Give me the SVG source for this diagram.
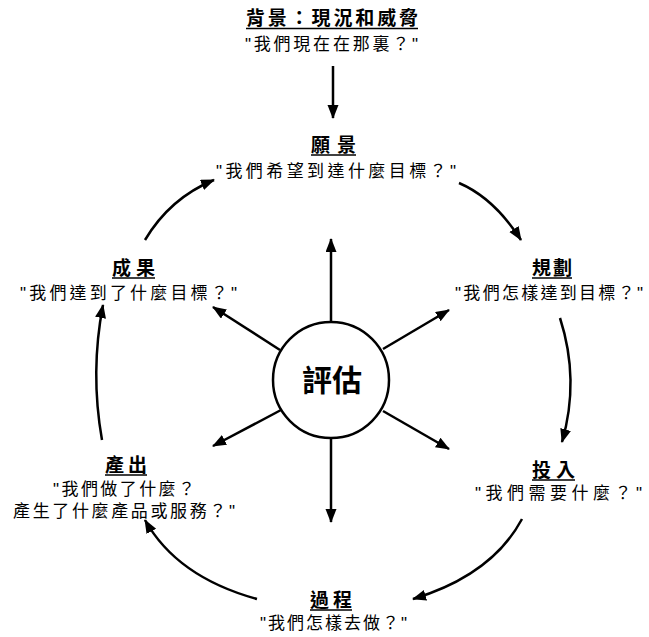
<svg xmlns="http://www.w3.org/2000/svg" width="649" height="637" viewBox="0 0 649 637">
<style>
.t{font-family:"Liberation Sans","Noto Sans CJK TC","Noto Sans CJK SC",sans-serif;font-size:19px;font-weight:bold;fill:#000}
.s{font-family:"Liberation Sans","Noto Sans CJK TC","Noto Sans CJK SC",sans-serif;font-size:17px;fill:#000}
.u{stroke:#000;stroke-width:1.5}
.c{fill:none;stroke:#000;stroke-width:2.5}
</style>
<defs>
<marker id="ah" markerUnits="userSpaceOnUse" markerWidth="14" markerHeight="12" refX="13" refY="5.5" orient="auto" viewBox="0 0 14 12">
<path d="M0,0 L14,5.5 L0,11 z" fill="#000"/>
</marker>
</defs>
<rect width="649" height="637" fill="#fff"/>
<g id="connectors">
<path class="c" d="M333,66 L333,118" marker-end="url(#ah)"/>
<path class="c" d="M459,183 Q494,198 521,240" marker-end="url(#ah)"/>
<path class="c" d="M560,318 Q580,380 562,442" marker-end="url(#ah)"/>
<path class="c" d="M522,519 Q492,575 413,599" marker-end="url(#ah)"/>
<path class="c" d="M257,599 Q177,577 145,520" marker-end="url(#ah)"/>
<path class="c" d="M102,440 Q90,372 103,305" marker-end="url(#ah)"/>
<path class="c" d="M145,240 Q170,198 214,180" marker-end="url(#ah)"/>
<path class="c" d="M331,322 L331,239" marker-end="url(#ah)"/>
<path class="c" d="M331,438 L331,522" marker-end="url(#ah)"/>
<path class="c" d="M280,350 L213,307" marker-end="url(#ah)"/>
<path class="c" d="M383,349 L449,310" marker-end="url(#ah)"/>
<path class="c" d="M281,410 L213,446" marker-end="url(#ah)"/>
<path class="c" d="M383,411 L449,449" marker-end="url(#ah)"/>
</g>
<g id="center">
<circle cx="331" cy="380" r="58" fill="#fff" stroke="#000" stroke-width="2.5"/>
<text x="332" y="391" text-anchor="middle" style="font-family:'Noto Sans CJK TC','Noto Sans CJK SC',sans-serif;font-size:30px;font-weight:bold">評估</text>
</g>
<g id="background">
<text class="t" x="246" y="25" textLength="172" lengthAdjust="spacing">背景：現況和威脅</text>
<line class="u" x1="246" y1="28.5" x2="418" y2="28.5"/>
<text class="s" x="245" y="49.5" textLength="173" lengthAdjust="spacing">"我們現在在那裏？"</text>
</g>
<g id="vision">
<text class="t" x="311" y="152" textLength="45" lengthAdjust="spacing">願景</text>
<line class="u" x1="311" y1="155" x2="356" y2="155"/>
<text class="s" x="216" y="176.5" textLength="240" lengthAdjust="spacing">"我們希望到達什麼目標？"</text>
</g>
<g id="planning">
<text class="t" x="532" y="275" textLength="40" lengthAdjust="spacing">規劃</text>
<line class="u" x1="532" y1="278" x2="572" y2="278"/>
<text class="s" x="455" y="298.5" textLength="188" lengthAdjust="spacing">"我們怎樣達到目標？"</text>
</g>
<g id="input">
<text class="t" x="532" y="477" textLength="43" lengthAdjust="spacing">投入</text>
<line class="u" x1="532" y1="480" x2="575" y2="480"/>
<text class="s" x="475" y="499" textLength="167" lengthAdjust="spacing">"我們需要什麼？"</text>
</g>
<g id="process">
<text class="t" x="310" y="607" textLength="42" lengthAdjust="spacing">過程</text>
<line class="u" x1="310" y1="610" x2="352" y2="610"/>
<text class="s" x="260" y="629" textLength="147" lengthAdjust="spacing">"我們怎樣去做？"</text>
</g>
<g id="output">
<text class="t" x="105" y="472" textLength="42" lengthAdjust="spacing">產出</text>
<line class="u" x1="105" y1="475" x2="147" y2="475"/>
<text class="s" x="53" y="495" textLength="142" lengthAdjust="spacing">"我們做了什麼？</text>
<text class="s" x="13" y="517" textLength="222" lengthAdjust="spacing">產生了什麼產品或服務？"</text>
</g>
<g id="outcome">
<text class="t" x="112" y="275" textLength="43" lengthAdjust="spacing">成果</text>
<line class="u" x1="112" y1="278" x2="155" y2="278"/>
<text class="s" x="20" y="298.5" textLength="217" lengthAdjust="spacing">"我們達到了什麼目標？"</text>
</g>
</svg>
